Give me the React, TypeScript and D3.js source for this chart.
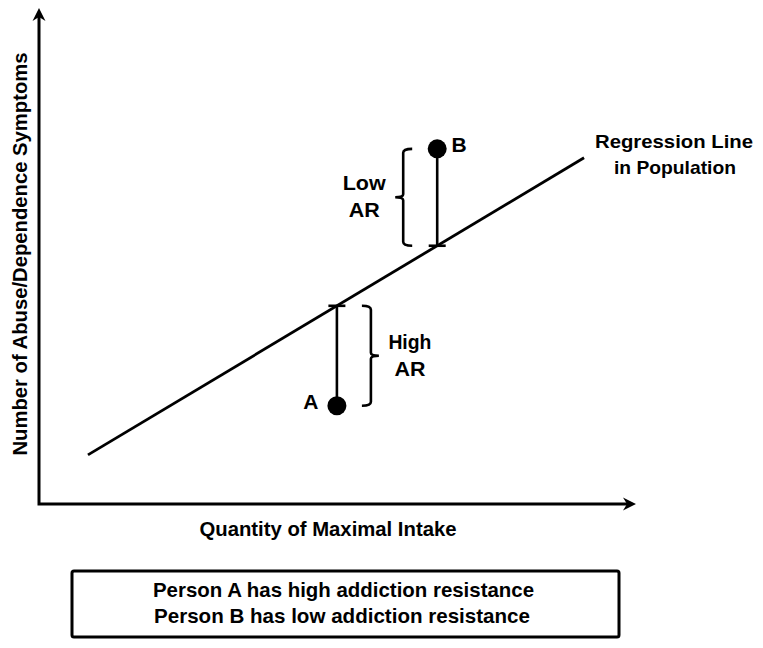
import React from "react"
import * as d3 from "d3"

// concept chart: values are on an arbitrary 0-10 scale on both axes
const regressionLine = [
  { x: 0.82, y: 0.99 },
  { x: 9.13, y: 6.98 },
]
const persons = [
  { name: "A", x: 4.99, y: 1.98, label: ["High", "AR"], side: 1 },
  { name: "B", x: 6.67, y: 7.16, label: ["Low", "AR"], side: -1 },
]
const xTitle = "Quantity of Maximal Intake"
const yTitle = "Number of Abuse/Dependence Symptoms"
const lineLabel = ["Regression Line", "in Population"]
const notes = ["Person A has high addiction resistance", "Person B has low addiction resistance"]

const W = 763
const H = 648
const FONT = "'Liberation Sans', Arial, Helvetica, sans-serif"

const x = d3.scaleLinear().domain([0, 10]).range([39, 636])
const y = d3.scaleLinear().domain([0, 10]).range([504, 8])

// value on the population regression line at intake v
const fitted = (v: number) => {
  const [a, b] = regressionLine
  return a.y + ((b.y - a.y) * (v - a.x)) / (b.x - a.x)
}

const bracketPath = (bx: number, top: number, bottom: number, dir: number) => {
  // dir: +1 -> nub points right, ends point left; -1 opposite
  const end = bx - dir * 9
  const tip = bx + dir * 8
  const mid = (top + bottom) / 2
  return [
    `M${end},${top}`,
    `Q${bx},${top} ${bx},${top + 4}`,
    `L${bx},${mid - 3}`,
    `Q${bx},${mid} ${tip},${mid}`,
    `Q${bx},${mid} ${bx},${mid + 3}`,
    `L${bx},${bottom - 4}`,
    `Q${bx},${bottom} ${end},${bottom}`,
  ].join(" ")
}

const txt = { fontFamily: FONT, fontWeight: 700, fill: "#000" }

export default function App() {
  const line = d3
    .line<{ x: number; y: number }>()
    .x((d) => x(d.x))
    .y((d) => y(d.y))

  const [x0, x1] = x.range()
  const [y0, y1] = y.range()

  return (
    <svg width={W} height={H} style={{ position: "absolute", left: 0, top: 0, background: "#fff" }}>
      {/* axes */}
      <path d={`M${x0},${y1 + 6} L${x0},${y0} L${x1 - 4},${y0}`} fill="none" stroke="#000" strokeWidth={3} />
      <path d={`M${x0},${y1} L${x0 + 6.5},${y1 + 13} L${x0},${y1 + 9} L${x0 - 6.5},${y1 + 13} Z`} fill="#000" />
      <path d={`M${x1},${y0} L${x1 - 13},${y0 - 6.5} L${x1 - 9},${y0} L${x1 - 13},${y0 + 6.5} Z`} fill="#000" />

      {/* regression line */}
      <path d={line(regressionLine) || ""} fill="none" stroke="#000" strokeWidth={2.8} />
      <text x={674} y={148} textAnchor="middle" fontSize={19} {...txt} textLength={158} lengthAdjust="spacingAndGlyphs">
        {lineLabel[0]}
      </text>
      <text x={675} y={174} textAnchor="middle" fontSize={19} {...txt} textLength={122} lengthAdjust="spacingAndGlyphs">
        {lineLabel[1]}
      </text>

      {persons.map((p) => {
        const px = x(p.x)
        const py = y(p.y)
        const fy = y(fitted(p.x))
        const top = Math.min(py, fy)
        const bottom = Math.max(py, fy)
        const bx = px + p.side * 34
        const labelX = bx + p.side * 39
        return (
          <g key={p.name}>
            <line x1={px} x2={px} y1={py} y2={fy} stroke="#000" strokeWidth={2.6} />
            <line x1={px - 8.5} x2={px + 8.5} y1={fy} y2={fy} stroke="#000" strokeWidth={2.6} />
            <circle cx={px} cy={py} r={9.5} fill="#000" />
            <path d={bracketPath(bx, top, bottom, p.side)} fill="none" stroke="#000" strokeWidth={2.6} />
            <text x={labelX} y={(top + bottom) / 2 - 7} textAnchor="middle" fontSize={21} {...txt} textLength={43} lengthAdjust="spacingAndGlyphs">
              {p.label[0]}
            </text>
            <text x={labelX} y={(top + bottom) / 2 + 20} textAnchor="middle" fontSize={21} {...txt} textLength={31} lengthAdjust="spacingAndGlyphs">
              {p.label[1]}
            </text>
            <text
              x={p.side > 0 ? px - 26 : px + 22}
              y={py + 3}
              textAnchor="middle"
              fontSize={21}
              {...txt}
            >
              {p.name}
            </text>
          </g>
        )
      })}

      {/* axis titles */}
      <text x={328} y={536} textAnchor="middle" fontSize={20} {...txt} textLength={257} lengthAdjust="spacingAndGlyphs">
        {xTitle}
      </text>
      <text
        transform={`translate(27,${(y0 + y1) / 2 - 2}) rotate(-90)`}
        textAnchor="middle"
        fontSize={20.5}
        {...txt}
        textLength={403}
        lengthAdjust="spacingAndGlyphs"
      >
        {yTitle}
      </text>

      {/* note box */}
      <rect x={72} y={571} width={547} height={66} rx={2} fill="#fff" stroke="#000" strokeWidth={3} />
      <text x={343.5} y={597} textAnchor="middle" fontSize={21} {...txt} textLength={381} lengthAdjust="spacingAndGlyphs">
        {notes[0]}
      </text>
      <text x={342} y={623} textAnchor="middle" fontSize={21} {...txt} textLength={376} lengthAdjust="spacingAndGlyphs">
        {notes[1]}
      </text>
    </svg>
  )
}
